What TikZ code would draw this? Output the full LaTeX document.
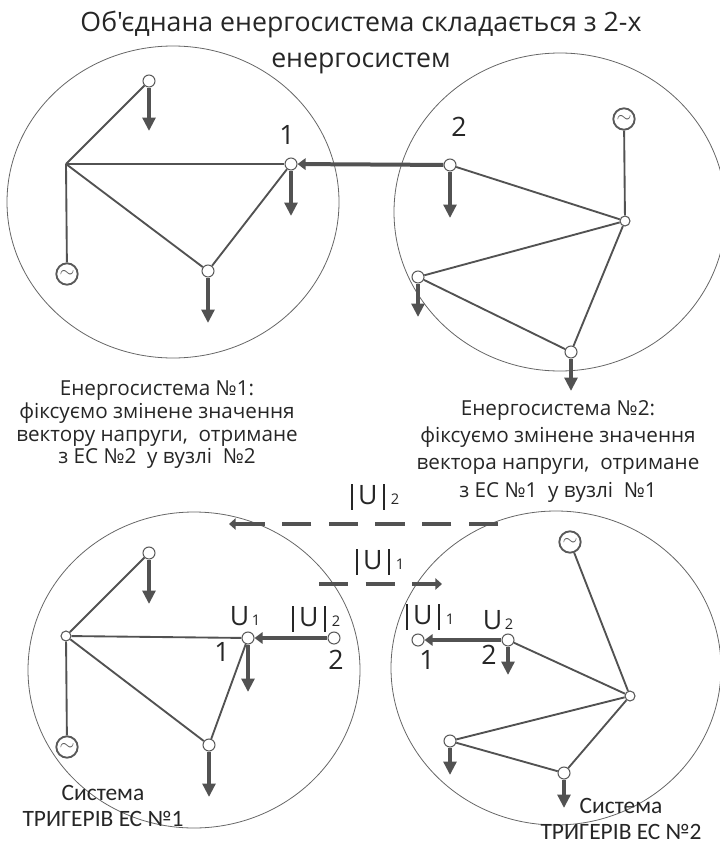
\documentclass[tikz,border=0pt]{standalone}
\usepackage{fontspec}
\setmainfont{Open Sans}
\newfontfamily\titlefont{Open Sans}
\newfontfamily\capfont{Carlito}
\usetikzlibrary{arrows.meta}

\tikzset{
  zone/.style={line width=0.6pt, draw=black!60},
  bus/.style={circle, draw=black!65, fill=white, line width=0.8pt, inner sep=0pt, minimum size=9pt},
  smallbus/.style={bus, minimum size=7.5pt},
  gen/.style={circle, draw=black!65, fill=white, line width=1.4pt, inner sep=0pt, minimum size=16pt, font=\Large, text=black!65},
  line/.style={line width=1.4pt, draw=black!68},
  load/.style={line width=2.6pt, draw=black!68, -{Triangle[length=10pt, width=9.5pt]}},
  flow/.style={line width=3pt, draw=black!68, -{Triangle[length=6pt, width=8.5pt]}},
  wave/.style={line width=3pt, draw=black!68, dash pattern=on 22pt off 13pt, -{Triangle[length=5pt, width=8.5pt]}},
  lbl/.style={font=\fontsize{20}{24}\selectfont, text=black!85},
  note/.style={font=\fontsize{15.5}{#1}\selectfont, align=center, text=black!85},
  note/.default=17,
  capt/.style={font=\capfont\fontsize{17.6}{20}\selectfont, align=center, inner sep=0pt, text=black!85}
}
\newcommand{\vbar}{\rule[-3.7pt]{1.5pt}{19pt}}
\newcommand{\sbs}[1]{{\fontsize{11}{11}\selectfont\kern2pt #1}}
\newcommand{\modu}[1]{\vbar\kern4pt U\kern4pt\vbar\kern2.5pt\sbs{#1}}

\begin{document}
\begin{tikzpicture}[x=0.75pt, y=-0.75pt]

\useasboundingbox (0,0) rectangle (719,842);

% zones
\draw[zone] (173,202) ellipse (166 and 156);
\draw[zone] (560,212) ellipse (166 and 159);
\draw[zone] (194,670) ellipse (166 and 158);
\draw[zone] (556,668) ellipse (165 and 157);

% title
\node[font=\titlefont\fontsize{20}{27}\selectfont, align=center, text=black!85] (title) at (361,42)
  {Об'єднана енергосистема складається з 2-х\\енергосистем};

% buses with their loads
\foreach \n/\x/\y/\t in {
  a1/149/81/131, a2/291/164/216, a3/208/271/323,
  b1/450/165/218, b2/418/277/317, b3/571/352/391,
  c1/149/553/604, c2/248/638/692, c3/209/745/797,
  d1/508/640/675, d2/450/741/775, d3/564/773/808} {
  \node[bus] (\n) at (\x,\y) {};
  \coordinate (\n t) at (\x,\t);
  \draw[load] (\n) -- (\n t);
}

% buses without load
\coordinate (ah) at (66,164);
\node[smallbus] (bh) at (625,221) {};
\node[smallbus] (ch) at (66,636) {};
\node[smallbus] (dh) at (630,696) {};
\node[bus] (c4) at (334,638) {};
\node[bus] (d4) at (418,640) {};

% generators
\node[gen] (ag) at (67,274) {$\sim$};
\node[gen] (bg) at (624,119) {$\sim$};
\node[gen] (cg) at (67,747) {$\sim$};
\node[gen] (dg) at (570,542) {$\sim$};

% system 1
\draw[line] (ah) -- (a1);
\draw[line] (ah) -- (a2);
\draw[line] (ah) -- (a3);
\draw[line] (a2) -- (a3);
\draw[line] (ah) -- (ag);

% system 2
\draw[line] (b1) -- (bh);
\draw[line] (b2) -- (bh);
\draw[line] (b3) -- (bh);
\draw[line] (b2) -- (b3);
\draw[line] (bg) -- (bh);

% triggers 1
\draw[line] (ch) -- (c1);
\draw[line] (ch) -- (c2);
\draw[line] (ch) -- (c3);
\draw[line] (c2) -- (c3);
\draw[line] (ch) -- (cg);

% triggers 2
\draw[line] (d1) -- (dh);
\draw[line] (d2) -- (dh);
\draw[line] (d3) -- (dh);
\draw[line] (d2) -- (d3);
\draw[line] (dg) -- (dh);

% tie lines
\draw[flow] (b1) -- (a2);
\draw[flow] (c4) -- (c2);
\draw[flow] (d1) -- (d4);

% exchange
\coordinate (w1s) at (498,524);
\coordinate (w1e) at (229,524);
\coordinate (w2s) at (319,584);
\coordinate (w2e) at (442,584);
\draw[wave] (w1s) -- (w1e);
\draw[wave] (w2s) -- (w2e);

% labels
\node[lbl] (n1) at (287,135) {1};
\node[lbl] (n2) at (459,127) {2};
\node[lbl] (u2a) at (375,497) {\modu{2}};
\node[lbl] (u1a) at (380,562) {\modu{1}};
\node[lbl] (uc) at (245,616) {U\sbs{1}};
\node[lbl] (uc2) at (316,619) {\modu{2}};
\node[lbl] (nc1) at (222,652) {1};
\node[lbl] (nc2) at (336,660) {2};
\node[lbl] (ud) at (498,620) {U\sbs{2}};
\node[lbl] (ud1) at (430,617) {\modu{1}};
\node[lbl] (nd1) at (427,660) {1};
\node[lbl] (nd2) at (489,655) {2};

% notes
\node[note] (t1) at (157,425) {Енергосистема №1:\\фіксуємо змінене значення\\вектору напруги,\ \ отримане\\з ЕС №2\ \ у вузлі\ \ №2};
\node[note=20.5] (t2) at (558,451) {Енергосистема №2:\\фіксуємо змінене значення\\вектора напруги,\ \ отримане\\з ЕС №1\ \ у вузлі\ \ №1};
\node[capt] (t3) at (103,806) {Система\\ТРИГЕРІВ ЕС №1};
\node[capt] (t4) at (621,819) {Система\\ТРИГЕРІВ ЕС №2};

\end{tikzpicture}
\end{document}
